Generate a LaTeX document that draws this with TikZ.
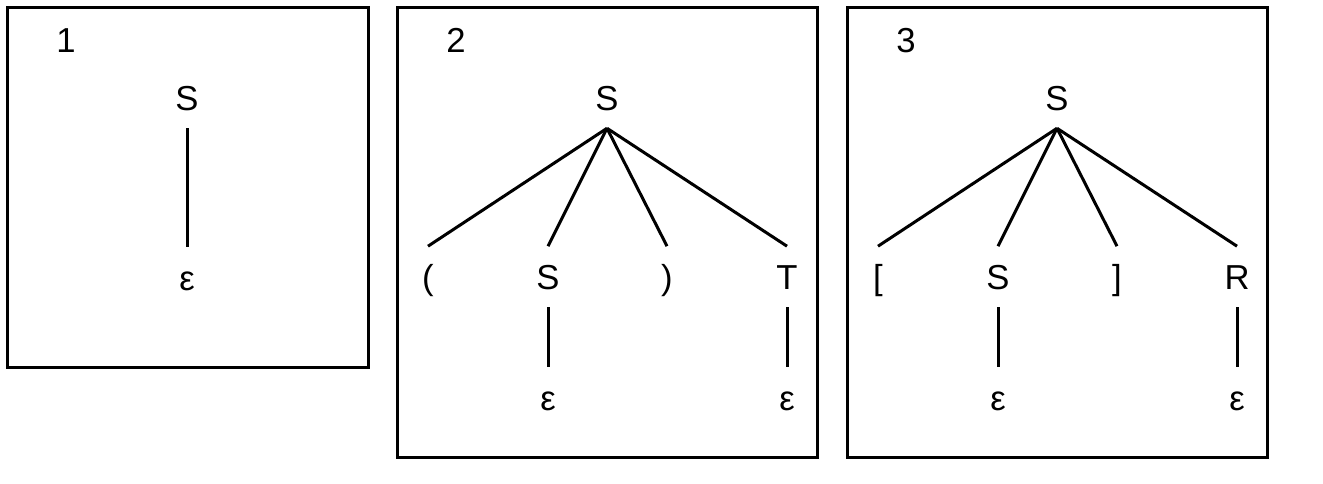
\documentclass[tikz,border=0pt]{standalone}
\usepackage{fontspec}
\setmainfont{Liberation Sans}
\begin{document}
\begin{tikzpicture}[x=0.75pt,y=-0.75pt,
  frame/.style={draw, line width=2.25pt},
  branch/.style={line width=2.25pt},
  sym/.style={inner sep=0pt, anchor=base, text height=31.9pt, text depth=13.5pt,
              font=\fontsize{26}{30}\selectfont},
  tag/.style={inner sep=0pt, anchor=base, font=\fontsize{26}{30}\selectfont}]
\useasboundingbox (0,0) rectangle (1323,483);

% frames
\draw[frame] (7.5,7.5) rectangle (368,367.5);
\draw[frame] (397.5,7.5) rectangle (817.7,457);
\draw[frame] (847.5,7.5) rectangle (1267.7,457);

% tree 1
\node[tag] (n1) at (66,52) {1};
\node[sym] (a0) at (187,110) {S};
\node[sym] (a1) at (187,290) {ε};
\draw[branch] (a0.south) -- (a1.north);

% tree 2
\node[tag] (n2) at (456,52) {2};
\node[sym] (b0) at (607,110) {S};
\node[sym] (b1) at (428,289) {(};
\node[sym] (b2) at (548,289) {S};
\node[sym] (b3) at (667,289) {)};
\node[sym] (b4) at (787,289) {T};
\node[sym] (b5) at (548,410) {ε};
\node[sym] (b6) at (787,410) {ε};
\foreach \c in {b1,b2,b3,b4} \draw[branch] (b0.south) -- (\c.north);
\draw[branch] (b2.south) -- (b5.north);
\draw[branch] (b4.south) -- (b6.north);

% tree 3
\node[tag] (n3) at (906,52) {3};
\node[sym] (c0) at (1057,110) {S};
\node[sym] (c1) at (878,289) {[};
\node[sym] (c2) at (998,289) {S};
\node[sym] (c3) at (1117,289) {]};
\node[sym] (c4) at (1237,289) {R};
\node[sym] (c5) at (998,410) {ε};
\node[sym] (c6) at (1237,410) {ε};
\foreach \c in {c1,c2,c3,c4} \draw[branch] (c0.south) -- (\c.north);
\draw[branch] (c2.south) -- (c5.north);
\draw[branch] (c4.south) -- (c6.north);
\end{tikzpicture}
\end{document}
